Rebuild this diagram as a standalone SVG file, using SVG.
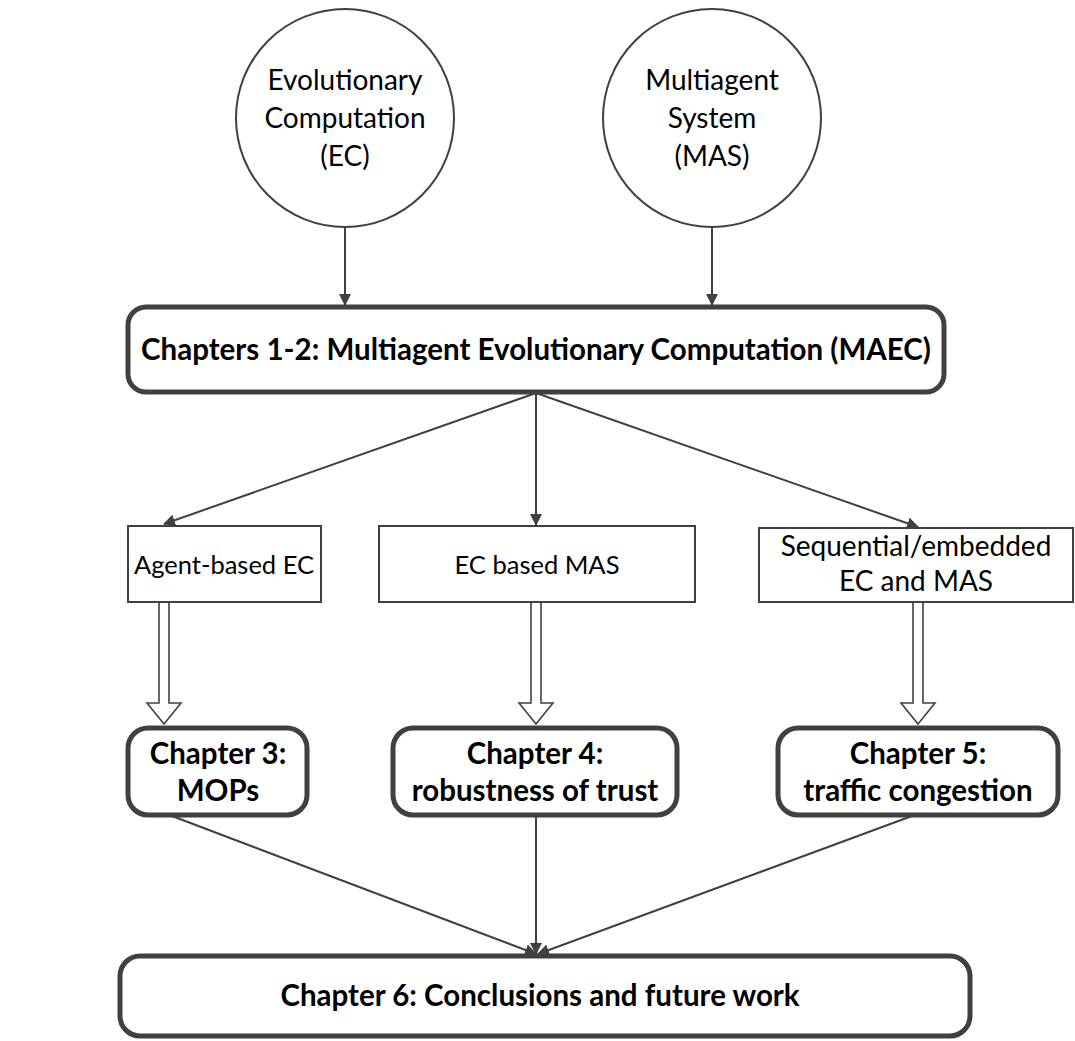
<svg xmlns="http://www.w3.org/2000/svg" width="1075" height="1041" viewBox="0 0 1075 1041">
<defs>
<style>
.c{fill:#fff;stroke:#404040;stroke-width:2}
.thin{fill:#fff;stroke:#404040;stroke-width:2}
.thick{fill:#fff;stroke:#404040;stroke-width:5}
.t{font-family:Lato,"Open Sans","Liberation Sans",sans-serif;font-size:28px;fill:#000;text-anchor:middle}
.s{font-size:25.5px}
.b{font-family:Lato,"Open Sans","Liberation Sans",sans-serif;font-size:29.5px;font-weight:bold;fill:#000;text-anchor:middle}
.ln{stroke:#404040;stroke-width:2;fill:none}
.ha{fill:#fff;stroke:#404040;stroke-width:1.6}
</style>
<marker id="ah" markerWidth="12" markerHeight="12" viewBox="0 0 12 12" refX="11" refY="6" orient="auto" markerUnits="userSpaceOnUse">
<path d="M0,0 L12,6 L0,12 Z" fill="#404040"/>
</marker>
</defs>
<rect width="1075" height="1041" fill="#fff"/>

<g id="connectors">
<line class="ln" x1="345" y1="228" x2="345" y2="305" marker-end="url(#ah)"/>
<line class="ln" x1="712" y1="228" x2="712" y2="305" marker-end="url(#ah)"/>
<line class="ln" x1="536" y1="393" x2="164" y2="524" marker-end="url(#ah)"/>
<line class="ln" x1="536" y1="393" x2="536" y2="525" marker-end="url(#ah)"/>
<line class="ln" x1="536" y1="393" x2="918" y2="527" marker-end="url(#ah)"/>
<path class="ha" d="M159,602 V703 H147 L164,724 L181,703 H169 V602 Z"/>
<path class="ha" d="M531,602 V703 H519 L536,724 L553,703 H541 V602 Z"/>
<path class="ha" d="M913,602 V703 H901 L918,724 L935,703 H923 V602 Z"/>
<line class="ln" x1="172" y1="816" x2="536" y2="954" marker-end="url(#ah)"/>
<line class="ln" x1="536" y1="816" x2="536" y2="954" marker-end="url(#ah)"/>
<line class="ln" x1="912" y1="816" x2="538" y2="954" marker-end="url(#ah)"/>
</g>

<g id="ec">
<circle class="c" cx="345" cy="118" r="109"/>
<text class="t" x="345" y="90">Evolutionary</text>
<text class="t" x="345" y="128">Computation</text>
<text class="t" x="345" y="166">(EC)</text>
</g>
<g id="mas">
<circle class="c" cx="712" cy="118" r="109"/>
<text class="t" x="712" y="90">Multiagent</text>
<text class="t" x="712" y="128">System</text>
<text class="t" x="712" y="166">(MAS)</text>
</g>
<g id="maec">
<rect class="thick" x="128" y="307" width="816" height="85" rx="18"/>
<text class="b" x="536" y="360">Chapters 1-2: Multiagent Evolutionary Computation (MAEC)</text>
</g>
<g id="agentbased">
<rect class="thin" x="128" y="526" width="193" height="76"/>
<text class="t s" x="224" y="574">Agent-based EC</text>
</g>
<g id="ecbased">
<rect class="thin" x="379" y="526" width="316" height="76"/>
<text class="t s" x="537" y="574">EC based MAS</text>
</g>
<g id="sequential">
<rect class="thin" x="759" y="528" width="314" height="74"/>
<text class="t" x="916" y="556">Sequential/embedded</text>
<text class="t" x="916" y="591">EC and MAS</text>
</g>
<g id="ch3">
<rect class="thick" x="128" y="728" width="179" height="87" rx="20"/>
<text class="b" x="218" y="764">Chapter 3:</text>
<text class="b" x="218" y="801">MOPs</text>
</g>
<g id="ch4">
<rect class="thick" x="393" y="728" width="284" height="87" rx="20"/>
<text class="b" x="535" y="764">Chapter 4:</text>
<text class="b" x="535" y="801">robustness of trust</text>
</g>
<g id="ch5">
<rect class="thick" x="778" y="728" width="280" height="87" rx="20"/>
<text class="b" x="918" y="764">Chapter 5:</text>
<text class="b" x="918" y="801">traffic congestion</text>
</g>
<g id="ch6">
<rect class="thick" x="120" y="956" width="850" height="80" rx="20"/>
<text class="b" x="540" y="1006">Chapter 6: Conclusions and future work</text>
</g>
</svg>
